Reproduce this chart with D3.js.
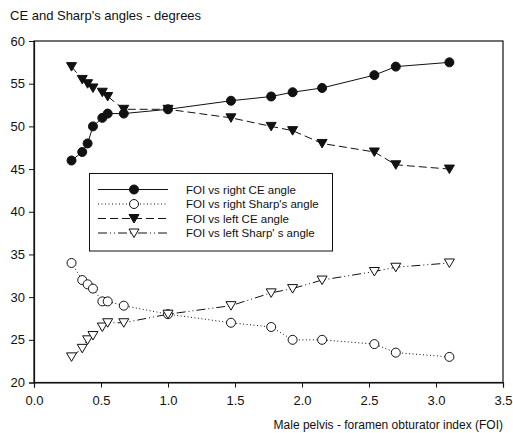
<!DOCTYPE html>
<html>
<head>
<meta charset="utf-8">
<script src="https://cdn.jsdelivr.net/npm/d3@7"></script>
<style>
  body { margin: 0; background: #fff; }
  text { font-family: "Liberation Sans", Arial, sans-serif; fill: #111; }
</style>
</head>
<body>
<script>
// FOI values (x) shared by all four series
const foi = [0.28, 0.36, 0.40, 0.44, 0.51, 0.55, 0.67, 1.0, 1.47, 1.77, 1.93, 2.15, 2.54, 2.70, 3.10];
const rightCE = [46, 47, 48, 50, 51, 51.5, 51.5, 52, 53, 53.5, 54, 54.5, 56, 57, 57.5];
const rightSharp = [34, 32, 31.5, 31, 29.5, 29.5, 29, 28, 27, 26.5, 25, 25, 24.5, 23.5, 23];
const leftCE = [57, 55.5, 55, 54.5, 54, 53.5, 52, 52, 51, 50, 49.5, 48, 47, 45.5, 45];
const leftSharp = [23, 24, 25, 25.5, 26.5, 27, 27, 28, 29, 30.5, 31, 32, 33, 33.5, 34];
const xTicks = [0, 0.5, 1, 1.5, 2, 2.5, 3, 3.5];
const yTicks = [20, 25, 30, 35, 40, 45, 50, 55, 60];
const legendLabels = ["FOI vs right CE angle", "FOI vs right Sharp's angle", "FOI vs left CE angle", "FOI vs left Sharp' s angle"];

const W = 513, H = 433;
const svg = d3.select("body").append("svg").attr("width", W).attr("height", H);

const x = d3.scaleLinear().domain([0, 3.5]).range([34, 503]);
const y = d3.scaleLinear().domain([20, 60]).range([382.5, 41]);

// series definitions (draw order matters: later ones on top)
const series = [
  { name: legendLabels[2], vals: leftCE, dash: "8,4", sym: "tri", fill: "#111" },
  { name: legendLabels[0], vals: rightCE, dash: null, sym: "circ", fill: "#111" },
  { name: legendLabels[1], vals: rightSharp, dash: "1,2.5", sym: "circ", fill: "#fff" },
  { name: legendLabels[3], vals: leftSharp, dash: "9,3,1,3,1,3", sym: "tri", fill: "#fff" }
];

function marker(sel, s) {
  if (s.sym === "circ") {
    sel.append("circle").attr("r", 4.5)
      .attr("fill", s.fill).attr("stroke", "#111").attr("stroke-width", 1);
  } else {
    sel.append("path").attr("d", "M-5,-4L5,-4L0,4.5Z")
      .attr("fill", s.fill).attr("stroke", "#111").attr("stroke-width", 1);
  }
}

// frame
svg.append("rect").attr("x", x(0)).attr("y", y(60))
  .attr("width", x(3.5) - x(0)).attr("height", y(20) - y(60))
  .attr("fill", "none").attr("stroke", "#111").attr("stroke-width", 1.2);

// axes
const xAxis = svg.append("g").attr("transform", `translate(0,${y(20)})`)
  .call(d3.axisBottom(x).tickValues(xTicks).tickFormat(d3.format(".1f")).tickSizeOuter(0).tickSize(5).tickPadding(8));
const yAxis = svg.append("g").attr("transform", `translate(${x(0)},0)`)
  .call(d3.axisLeft(y).tickValues(yTicks).tickSizeOuter(0).tickSize(5).tickPadding(4));
[xAxis, yAxis].forEach(a => {
  a.select(".domain").attr("stroke", "#111").attr("stroke-width", 1.2);
  a.selectAll(".tick line").attr("stroke", "#111");
  a.selectAll(".tick text").attr("font-size", 13).attr("font-family", "Liberation Sans, Arial, sans-serif").attr("fill", "#111");
});

// titles
svg.append("text").attr("x", 10).attr("y", 20).attr("font-size", 13)
  .text("CE and Sharp's angles - degrees");
svg.append("text").attr("x", 503).attr("y", 429).attr("font-size", 12)
  .attr("text-anchor", "end").text("Male pelvis - foramen obturator index (FOI)");

// lines
const line = d3.line().x(d => x(d[0])).y(d => y(d[1]));
series.forEach(s => {
  svg.append("path").datum(foi.map((f, i) => [f, s.vals[i]]))
    .attr("d", line).attr("fill", "none").attr("stroke", "#111")
    .attr("stroke-width", 1).attr("stroke-dasharray", s.dash);
});

// markers
series.forEach(s => {
  foi.forEach((f, i) => {
    const g = svg.append("g").attr("transform", `translate(${x(f)},${y(s.vals[i])})`);
    marker(g, s);
  });
});

// legend
const lg = svg.append("g");
lg.append("rect").attr("x", 89.5).attr("y", 173.5).attr("width", 243).attr("height", 77.5)
  .attr("fill", "#fff").attr("stroke", "#111").attr("stroke-width", 1);
const legendOrder = [1, 2, 0, 3];
legendOrder.forEach((si, k) => {
  const s = series[si];
  const ry = 189.5 + k * 14.5;
  lg.append("line").attr("x1", 98).attr("x2", 168).attr("y1", ry).attr("y2", ry)
    .attr("stroke", "#111").attr("stroke-width", 1).attr("stroke-dasharray", s.dash);
  marker(lg.append("g").attr("transform", `translate(134,${ry})`), s);
  lg.append("text").attr("x", 186).attr("y", ry + 4).attr("font-size", 11.5).text(s.name);
});
</script>
</body>
</html>
